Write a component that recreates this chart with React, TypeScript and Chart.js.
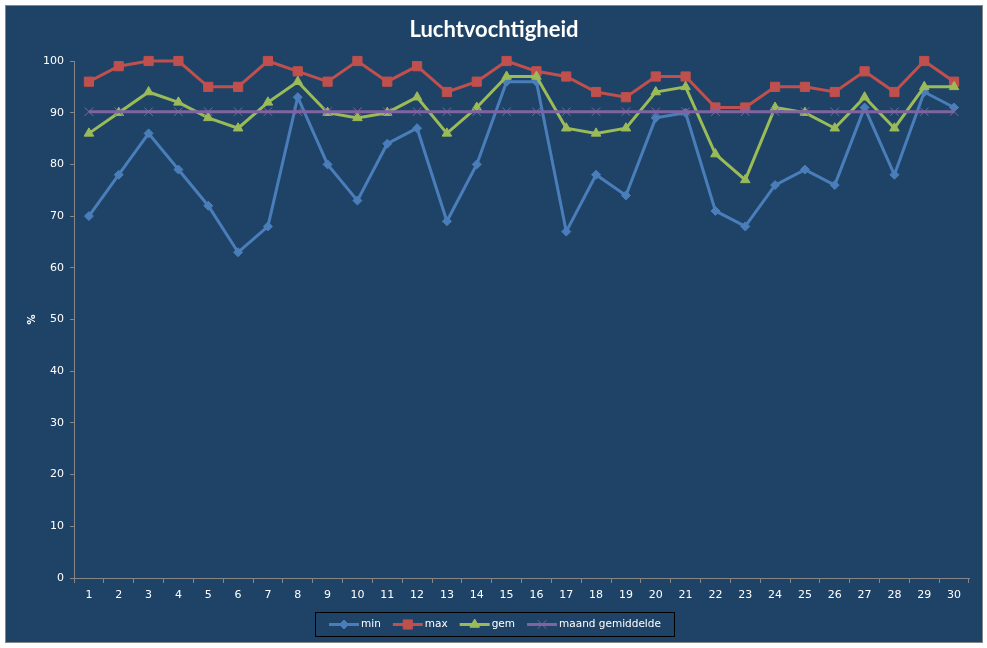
import { useEffect, useRef } from 'react';
import { Chart, registerables } from 'chart.js';

Chart.register(...registerables);

const chartTitle = 'Luchtvochtigheid';
const yAxisTitle = '%';
const days = ['1','2','3','4','5','6','7','8','9','10','11','12','13','14','15','16','17','18','19','20','21','22','23','24','25','26','27','28','29','30'];
const seriesNames = ['min', 'max', 'gem', 'maand gemiddelde'];
const minValues = [70, 78, 86, 79, 72, 63, 68, 93, 80, 73, 84, 87, 69, 80, 96, 96, 67, 78, 74, 89, 90, 71, 68, 76, 79, 76, 91, 78, 94, 91];
const maxValues = [96, 99, 100, 100, 95, 95, 100, 98, 96, 100, 96, 99, 94, 96, 100, 98, 97, 94, 93, 97, 97, 91, 91, 95, 95, 94, 98, 94, 100, 96];
const gemValues = [86, 90, 94, 92, 89, 87, 92, 96, 90, 89, 90, 93, 86, 91, 97, 97, 87, 86, 87, 94, 95, 82, 77, 91, 90, 87, 93, 87, 95, 95];
const maandGemiddelde = [90.2, 90.2, 90.2, 90.2, 90.2, 90.2, 90.2, 90.2, 90.2, 90.2, 90.2, 90.2, 90.2, 90.2, 90.2, 90.2, 90.2, 90.2, 90.2, 90.2, 90.2, 90.2, 90.2, 90.2, 90.2, 90.2, 90.2, 90.2, 90.2, 90.2];
const yMin = 0;
const yMax = 100;
const yStep = 10;

const BG = '#1F4366';
const AXIS = '#868686';
const TEXT = '#FFFFFF';
const COLORS = ['#4A7EBB', '#C0504D', '#9BBB59', '#8064A2'];
const STYLES = ['rectRot', 'rect', 'triangle', 'crossRot'];
const RADII = [4.5, 6.5, 5.5, 6];
const TICK_FONT = { family: '"DejaVu Sans", Verdana, sans-serif', size: 11 };

function drawMarker(ctx: CanvasRenderingContext2D, style: string, x: number, y: number, r: number, color: string) {
  ctx.save();
  ctx.fillStyle = color;
  ctx.strokeStyle = color;
  ctx.lineWidth = 1;
  ctx.beginPath();
  if (style === 'rectRot') {
    ctx.moveTo(x, y - r); ctx.lineTo(x + r, y); ctx.lineTo(x, y + r); ctx.lineTo(x - r, y); ctx.closePath();
    ctx.fill(); ctx.stroke();
  } else if (style === 'rect') {
    const s = r * Math.SQRT1_2;
    ctx.rect(x - s, y - s, 2 * s, 2 * s);
    ctx.fill(); ctx.stroke();
  } else if (style === 'triangle') {
    const a = (2 * Math.PI) / 3;
    ctx.moveTo(x, y - r);
    ctx.lineTo(x + Math.sin(a) * r, y - Math.cos(a) * r);
    ctx.lineTo(x + Math.sin(2 * a) * r, y - Math.cos(2 * a) * r);
    ctx.closePath();
    ctx.fill(); ctx.stroke();
  } else {
    const o = r * Math.SQRT1_2;
    ctx.moveTo(x - o, y - o); ctx.lineTo(x + o, y + o);
    ctx.moveTo(x - o, y + o); ctx.lineTo(x + o, y - o);
    ctx.stroke();
  }
  ctx.restore();
}

const titleAndLegend = {
  id: 'titleAndLegend',
  afterDraw(chart: any) {
    const ctx: CanvasRenderingContext2D = chart.ctx;
    ctx.save();
    // title
    ctx.font = 'bold 22px Lato, "Open Sans", sans-serif';
    ctx.fillStyle = TEXT;
    ctx.textAlign = 'center';
    ctx.textBaseline = 'middle';
    ctx.fillText(chartTitle, chart.width / 2, 24);

    // legend
    ctx.font = '10.5px "DejaVu Sans", Verdana, sans-serif';
    const sampleW = 30, gap = 2, itemGap = 12, padL = 14, padR = 13;
    const widths = seriesNames.map((n) => ctx.measureText(n).width);
    let total = padL + padR + itemGap * (seriesNames.length - 1);
    widths.forEach((w) => { total += sampleW + gap + w; });
    const left = Math.round(chart.width / 2 - total / 2);
    const top = 606;
    const h = 24;
    ctx.strokeStyle = '#000';
    ctx.lineWidth = 1;
    ctx.strokeRect(left + 0.5, top + 0.5, Math.round(total), h);
    const cy = top + h / 2 + 0.5;
    let x = left + padL;
    seriesNames.forEach((name, i) => {
      ctx.strokeStyle = COLORS[i];
      ctx.lineWidth = 3;
      ctx.beginPath();
      ctx.moveTo(x, cy);
      ctx.lineTo(x + sampleW, cy);
      ctx.stroke();
      drawMarker(ctx, STYLES[i], x + sampleW / 2, cy, RADII[i], COLORS[i]);
      ctx.fillStyle = TEXT;
      ctx.textBaseline = 'middle';
      ctx.textAlign = 'left';
      ctx.fillText(name, x + sampleW + gap, cy);
      x += sampleW + gap + widths[i] + itemGap;
    });
    ctx.restore();
  },
};

export default function App() {
  const ref = useRef<HTMLCanvasElement>(null);

  useEffect(() => {
    const seriesValues = [minValues, maxValues, gemValues, maandGemiddelde];
    const chart = new Chart(ref.current as HTMLCanvasElement, {
      type: 'line',
      data: {
        labels: days,
        datasets: seriesNames.map((name, i) => ({
          label: name,
          data: seriesValues[i],
          borderColor: COLORS[i],
          backgroundColor: COLORS[i],
          pointBackgroundColor: COLORS[i],
          pointBorderColor: COLORS[i],
          borderWidth: 3,
          pointStyle: STYLES[i] as any,
          pointRadius: RADII[i],
          pointBorderWidth: 1,
          tension: 0,
          fill: false,
          clip: false as any,
          order: seriesNames.length - i,
        })),
      },
      options: {
        responsive: false,
        animation: false,
        events: [],
        layout: { padding: { left: 0, right: 13, top: 55, bottom: 24 } },
        plugins: {
          legend: { display: false },
          tooltip: { enabled: false },
          title: { display: false },
        },
        scales: {
          x: {
            type: 'category',
            offset: true,
            grid: { display: true, offset: true, drawOnChartArea: false, drawTicks: true, tickLength: 5, color: AXIS, lineWidth: 1 },
            border: { display: true, color: AXIS, width: 1 },
            ticks: { color: TEXT, font: TICK_FONT, padding: 6, maxRotation: 0, autoSkip: false },
            afterFit: (s: any) => { s.height = 40; },
          },
          y: {
            min: yMin,
            max: yMax,
            ticks: { stepSize: yStep, color: TEXT, font: TICK_FONT, padding: 6 },
            grid: { display: true, drawOnChartArea: false, drawTicks: true, tickLength: 4, color: AXIS, lineWidth: 1 },
            border: { display: true, color: AXIS, width: 1 },
            title: {
              display: true,
              text: yAxisTitle,
              color: TEXT,
              font: { family: '"DejaVu Sans", Verdana, sans-serif', size: 10, weight: 'bold' },
              padding: { top: 20, bottom: 0 },
            },
            afterFit: (s: any) => { s.width = 68; },
          },
        },
      },
      plugins: [titleAndLegend],
    });
    return () => chart.destroy();
  }, []);

  return (
    <div style={{ position: 'fixed', left: 0, top: 0, width: 987, height: 648, background: '#FFFFFF' }}>
      <div
        style={{
          position: 'absolute',
          left: 5,
          top: 5,
          width: 976,
          height: 636,
          border: `1px solid ${AXIS}`,
          background: BG,
        }}
      >
        <canvas ref={ref} width={976} height={636} style={{ display: 'block' }} />
      </div>
    </div>
  );
}
